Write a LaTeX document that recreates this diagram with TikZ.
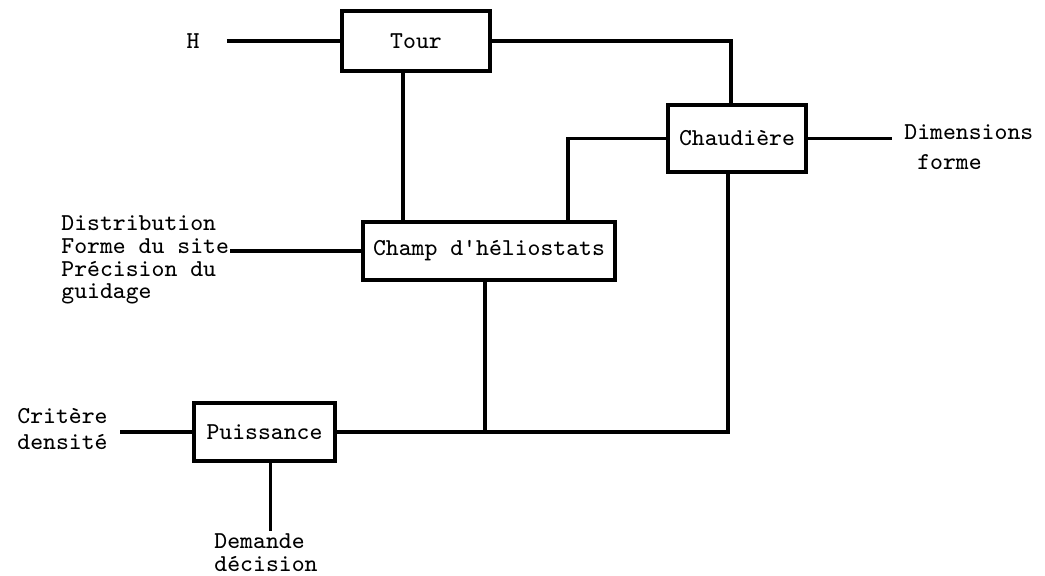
\documentclass[tikz,border=0pt]{standalone}
\usepackage{fontspec}
\usepackage{tikz}

\begin{document}
\begin{tikzpicture}[
  x=0.01cm, y=-0.01cm,
  box/.style = {draw, line width=1.1pt, inner sep=0pt,
                font=\ttfamily\fontsize{6.9}{8}\selectfont},
  lbl/.style = {align=left, font=\ttfamily\fontsize{6.9}{#1}\selectfont},
  lbl/.default = 7.5pt,
  link/.style = {line width=0.9pt}
]
  \useasboundingbox (0,0) rectangle (1045,576);

  % Blocks
  \node[box, minimum width=1.48cm, minimum height=0.60cm] (tour)  at (416,41)    {Tour};
  \node[box, minimum width=1.38cm, minimum height=0.67cm] (chaud) at (737,138.5) {Chaudière};
  \node[box, minimum width=2.52cm, minimum height=0.58cm] (champ) at (489,251)   {Champ d'héliostats};
  \node[box, minimum width=1.41cm, minimum height=0.58cm] (puiss) at (264.5,432) {Puissance};

  % Inputs and outputs
  \node[lbl] (h) at (193,41) {H};
  \node[lbl=6.5pt, anchor=west] (param) at (49,260) {Distribution\\Forme du site\\Précision du\\guidage};
  \coordinate (pin) at (230,251);
  \node[lbl=7.4pt, anchor=west] (crit) at (5,429) {Critère\\densité};
  \node[lbl=6.5pt, anchor=north, inner sep=0.5pt] (dem) at (266,531) {Demande\\décision};
  \node[lbl=8.5pt, anchor=west] (dims) at (892,147) {Dimensions\\\ forme};

  % Tour
  \draw[link] ([xshift=0.15cm]h.east) -- (tour.west);
  \draw[link] (tour.east) -| ([xshift=-0.06cm]chaud.north);
  \draw[link] ([xshift=-0.13cm]tour.south) -- ([xshift=-0.13cm]tour.south |- champ.north);

  % Chaudiere
  \draw[link] (chaud.west) -| ([xshift=0.79cm]champ.north);
  \draw[link] (chaud.east) -- (dims.west |- chaud.east);
  \draw[link] ([xshift=-0.09cm]chaud.south) |- (puiss.east);

  % Champ
  \draw[link] (pin) -- (champ.west);
  \draw[link] ([xshift=-0.04cm]champ.south) -- ([xshift=-0.04cm]champ.south |- puiss.east);

  % Puissance
  \draw[link] (crit.east |- puiss.west) -- (puiss.west);
  \draw[link] ([xshift=0.06cm]puiss.south) -- ([xshift=0.06cm]puiss.south |- dem.north);

\end{tikzpicture}
\end{document}
